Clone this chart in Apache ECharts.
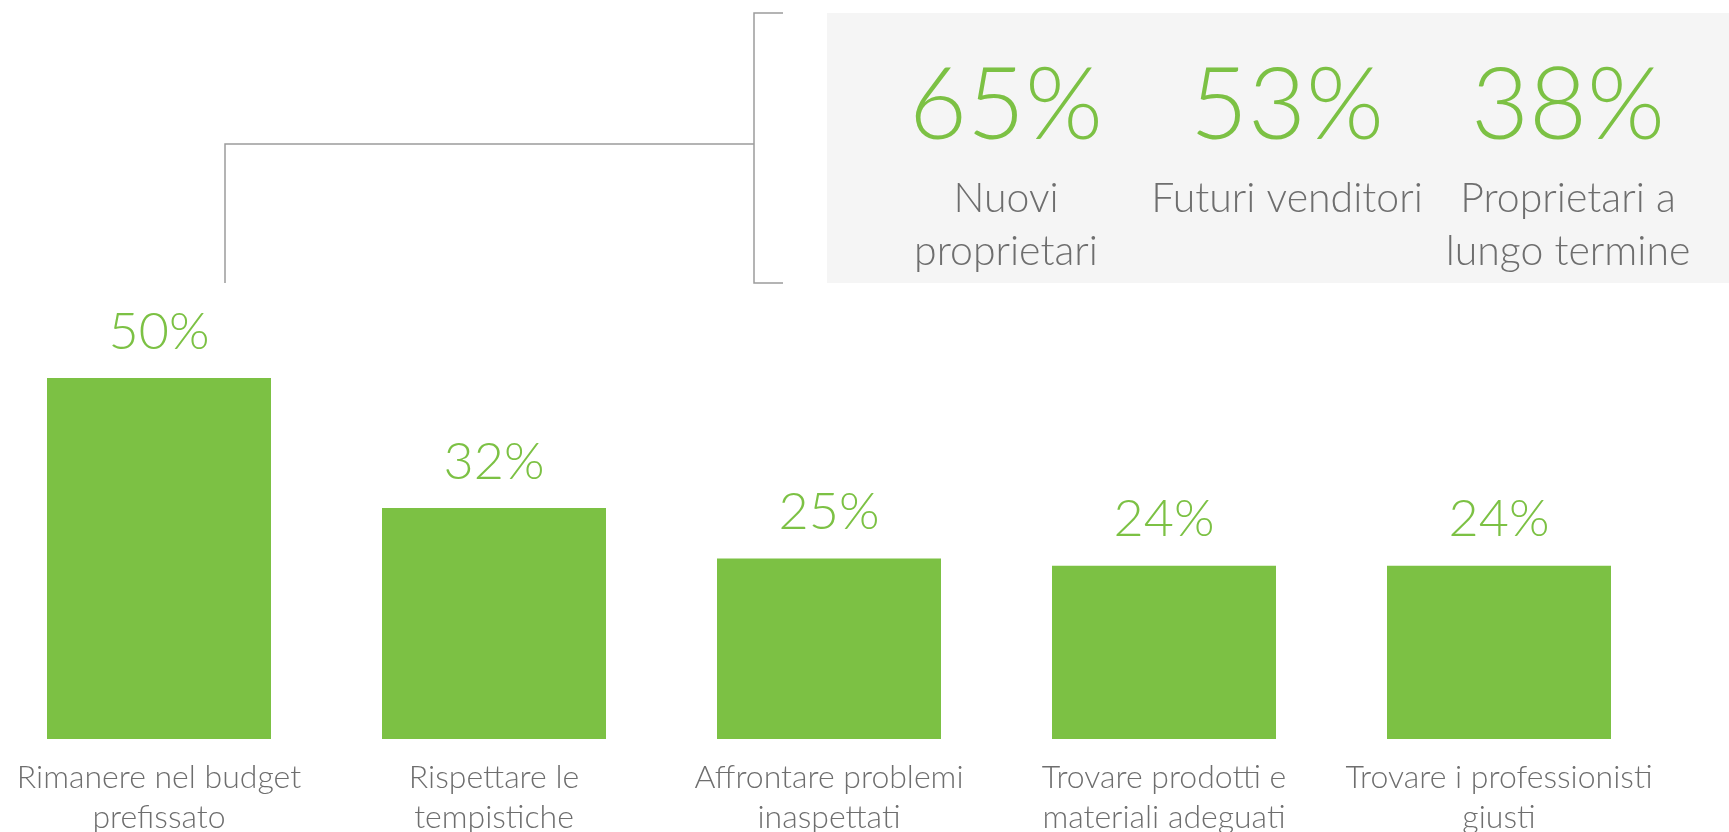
<!DOCTYPE html>
<html>
<head>
<meta charset="utf-8">
<style>
  html, body { margin: 0; padding: 0; background: #ffffff; }
  #chart { width: 1729px; height: 832px; }
</style>
<script src="https://cdn.jsdelivr.net/npm/echarts@6/dist/echarts.min.js"></script>
</head>
<body>
<div id="chart"></div>
<script>
// Difficoltà principali durante la ristrutturazione (quota di intervistati, %)
const categories = [
  'Rimanere nel budget\nprefissato',
  'Rispettare le\ntempistiche',
  'Affrontare problemi\ninaspettati',
  'Trovare prodotti e\nmateriali adeguati',
  'Trovare i professionisti\ngiusti'
];
const values = [50, 32, 25, 24, 24];

// Dettaglio della prima voce per tipo di proprietario (%)
const groupLabels = ['Nuovi\nproprietari', 'Futuri venditori', 'Proprietari a\nlungo termine'];
const groupValues = [65, 53, 38];

const GREEN = '#7cc144';
const GREY_TEXT = '#6e6e6e';
const LINE = '#9c9c9c';
const FONT = 'Lato, "Open Sans", "Noto Sans", sans-serif';

const chart = echarts.init(document.getElementById('chart'), null, { renderer: 'canvas' });

// callout panel layout
const panel = { x: 827, y: 13, w: 902, h: 270 };
const colCenters = [1006, 1287, 1568];

const graphics = [
  { type: 'rect', shape: { x: panel.x, y: panel.y, width: panel.w, height: panel.h },
    style: { fill: '#f5f5f5' }, silent: true },
  // connector from the first bar up to the bracket
  { type: 'polyline', shape: { points: [[225, 283], [225, 144], [754, 144]] },
    style: { stroke: LINE, lineWidth: 1.5, fill: null }, silent: true },
  // bracket
  { type: 'polyline', shape: { points: [[783, 13], [754, 13], [754, 283], [783, 283]] },
    style: { stroke: LINE, lineWidth: 1.5, fill: null }, silent: true }
];

groupValues.forEach((v, i) => {
  graphics.push({
    type: 'text', x: colCenters[i], y: 107, silent: true,
    style: { text: v + '%', fill: GREEN, font: '300 100px ' + FONT,
             textAlign: 'center', textVerticalAlign: 'middle' }
  });
  graphics.push({
    type: 'text', x: colCenters[i], y: 172, silent: true,
    style: { text: groupLabels[i], fill: GREY_TEXT, font: '300 41px ' + FONT,
             lineHeight: 53, textAlign: 'center', textVerticalAlign: 'top' }
  });
});

chart.setOption({
  animation: false,
  backgroundColor: '#ffffff',
  // categories sit on the ticks, so the grid spans first to last bar centre
  grid: { left: 159, right: 230, top: 378, bottom: 93, outerBoundsMode: 'none', containLabel: false },
  xAxis: {
    type: 'category',
    data: categories,
    boundaryGap: false,
    axisLine: { show: false },
    axisTick: { show: false },
    axisLabel: {
      interval: 0, margin: 19, color: GREY_TEXT,
      fontFamily: FONT, fontWeight: 300, fontSize: 32, lineHeight: 40
    }
  },
  yAxis: {
    type: 'value', min: 0, max: 50,
    show: false, splitLine: { show: false }
  },
  series: [{
    type: 'bar',
    data: values,
    barWidth: 224,
    itemStyle: { color: GREEN },
    label: {
      show: true, position: 'top', distance: 20,
      formatter: '{c}%', color: GREEN,
      fontFamily: FONT, fontWeight: 300, fontSize: 52, lineHeight: 52
    }
  }],
  graphic: graphics
});
</script>
</body>
</html>
